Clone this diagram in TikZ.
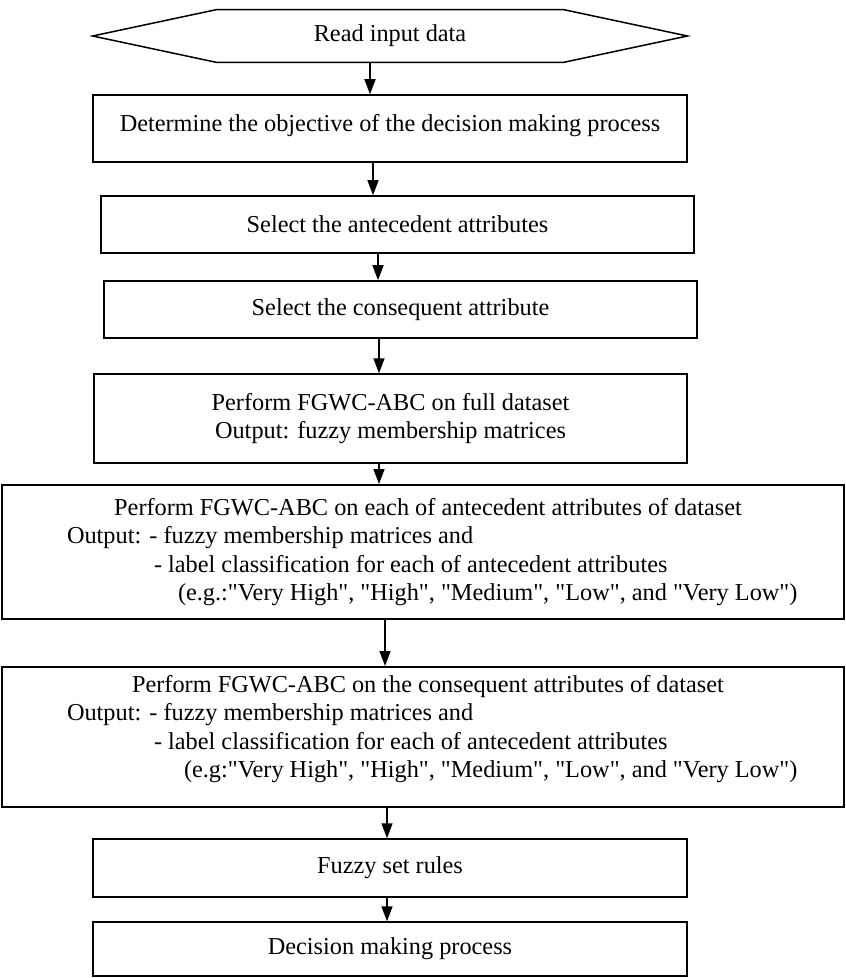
\documentclass[tikz,border=0pt]{standalone}
\usepackage{fontspec}
\newfontfamily\flowfont{Liberation Serif}
\usetikzlibrary{arrows.meta}

\begin{document}
\begin{tikzpicture}[x=0.5pt,y=-0.5pt]
		\tikzstyle{every node} = [font = \flowfont\fontsize{12.15}{14.2}\selectfont]
		\tikzstyle{stepbox} = [draw, line width=0.75pt, inner sep=0pt, align=center]
		\tikzstyle{widebox} = [stepbox, line width=1pt, text width=421pt, align=flush left,
			minimum width=421pt]
		\tikzstyle{flow} = [draw, line width=0.75pt, -{Triangle[length=7.5pt,width=5.5pt]}]
		\useasboundingbox (0,0) rectangle (845,978);
				% start: hexagon round the text
				\node[inner sep=0pt, minimum width=297pt, minimum height=26pt]
					(read) at (390,36) {Read input data};
				\path[draw, line width=0.75pt] (read.west)--
					([xshift=62pt]read.north west)--
					([xshift=-62pt]read.north east)--
					(read.east)--
					([xshift=-62pt]read.south east)--
					([xshift=62pt]read.south west)-- cycle;
				\node[stepbox, minimum width=297pt, minimum height=33.5pt, text depth=6pt]
					(goal) at (390,128.5) {Determine the objective of the decision making process};
				\node[stepbox, minimum width=296.5pt, minimum height=28.5pt]
					(ante) at (397.5,224.5) {Select the antecedent attributes};
				\node[stepbox, minimum width=296.5pt, minimum height=28.5pt]
					(cons) at (400.5,309.5) {Select the consequent attribute};
				\node[stepbox, minimum width=296.5pt, minimum height=44.5pt]
					(full) at (390.5,418.5) {Perform FGWC-ABC on full dataset\\
					Output: fuzzy membership matrices};
				\node[widebox, minimum height=67pt] (antefgwc) at (423,552)
					{\hfill\hspace*{5pt}Perform FGWC-ABC on each of antecedent attributes of dataset\hfill\null\\
					\hspace*{32.5pt}Output: - fuzzy membership matrices and\\
					\hspace*{76pt}- label classification for each of antecedent attributes\\
					\hspace*{88pt}(e.g.:"Very High", "High", "Medium", "Low", and "Very Low")};
				\node[widebox, minimum height=70pt] (consfgwc) at (423,737)
					{\hfill\hspace*{5pt}Perform FGWC-ABC on the consequent attributes of dataset\hfill\null\\
					\hspace*{32.5pt}Output: - fuzzy membership matrices and\\
					\hspace*{76pt}- label classification for each of antecedent attributes\\
					\hspace*{91pt}(e.g:"Very High", "High", "Medium", "Low", and "Very Low")\par
					\vspace*{8pt}\hrule height 0pt width 0pt};
				\node[stepbox, minimum width=297pt, minimum height=29pt]
					(rules) at (390,868) {Fuzzy set rules};
				\node[stepbox, minimum width=297pt, minimum height=27pt]
					(decide) at (390,949) {Decision making process};
				% connectors
				\path[flow] ([xshift=-10pt]read.south)--
					([xshift=-10pt]read.south |- goal.north);
				\path[flow] ([xshift=-8.5pt]goal.south)--
					([xshift=-8.5pt]goal.south |- ante.north);
				\path[flow] ([xshift=-9.75pt]ante.south)--
					([xshift=-9.75pt]ante.south |- cons.north);
				\path[flow] ([xshift=-10.75pt]cons.south)--
					([xshift=-10.75pt]cons.south |- full.north);
				\path[flow] ([xshift=-5.75pt]full.south)--
					([xshift=-5.75pt]full.south |- antefgwc.north);
				\path[flow] ([xshift=-19pt]antefgwc.south)--
					([xshift=-19pt]antefgwc.south |- consfgwc.north);
				\path[flow] ([xshift=-18pt]consfgwc.south)--
					([xshift=-18pt]consfgwc.south |- rules.north);
				\path[flow] ([xshift=-1.5pt]rules.south)--
					([xshift=-1.5pt]rules.south |- decide.north);
	\end{tikzpicture}
\end{document}
